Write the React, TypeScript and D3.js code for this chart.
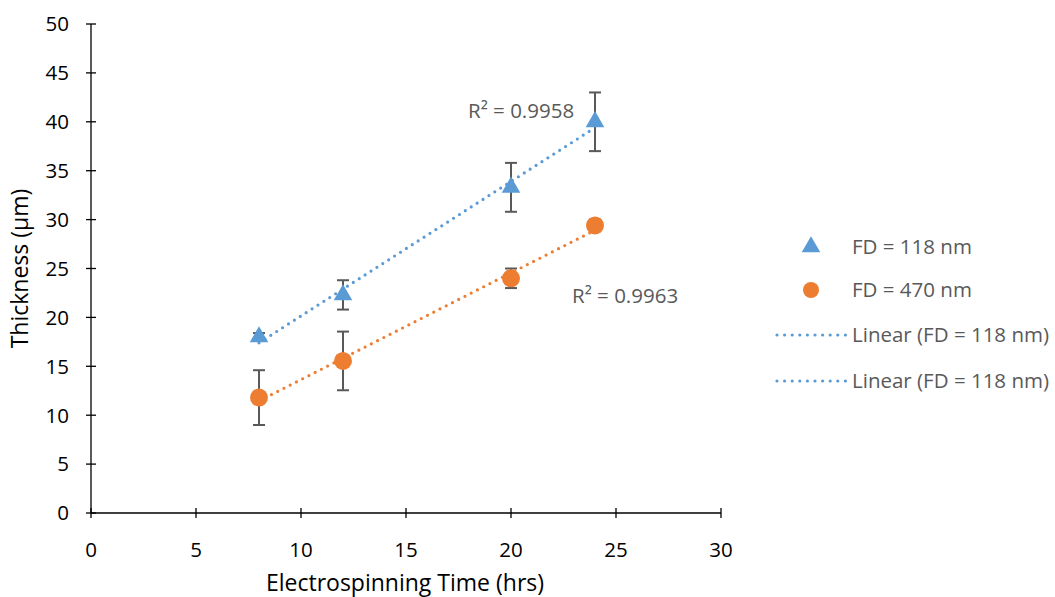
import React from "react";
import * as d3 from "d3";

const hours = [8, 12, 20, 24];
const fd118 = [18, 22.3, 33.3, 40];
const fd118Err = [0.4, 1.5, 2.5, 3];
const fd470 = [11.8, 15.55, 24, 29.4];
const fd470Err = [2.8, 3, 1, 0.6];
const xTicks = [0, 5, 10, 15, 20, 25, 30];
const yTicks = [0, 5, 10, 15, 20, 25, 30, 35, 40, 45, 50];
const r2Labels = ["R² = 0.9958", "R² = 0.9963"];
const legendLabels = ["FD = 118 nm", "FD = 470 nm", "Linear (FD = 118 nm)", "Linear (FD = 118 nm)"];

const BLUE = "#5B9BD5";
const ORANGE = "#ED7D31";
const GRAY = "#595959";
const FONT = "'Open Sans', 'Liberation Sans', sans-serif";

function fit(xs: number[], ys: number[]) {
  const mx = d3.mean(xs)!;
  const my = d3.mean(ys)!;
  let sxy = 0, sxx = 0;
  xs.forEach((x, i) => { sxy += (x - mx) * (ys[i] - my); sxx += (x - mx) ** 2; });
  const m = sxy / sxx;
  const b = my - m * mx;
  return (x: number) => m * x + b;
}

export default function App() {
  const x = d3.scaleLinear().domain([0, 30]).range([91, 721]);
  const y = d3.scaleLinear().domain([0, 50]).range([513, 24]);
  const f1 = fit(hours, fd118);
  const f2 = fit(hours, fd470);
  const x0 = d3.min(hours)!, x1 = d3.max(hours)!;
  const tri = d3.symbol().type(d3.symbolTriangle).size(150)()!;
  const legTri = d3.symbol().type(d3.symbolTriangle).size(150)()!;

  const errBars = (vals: number[], errs: number[], key: string) =>
    hours.map((h, i) => {
      const cx = x(h);
      const t = y(vals[i] + errs[i]);
      const b = y(vals[i] - errs[i]);
      return (
        <g key={key + i} stroke={GRAY} strokeWidth={2}>
          <line x1={cx} x2={cx} y1={t} y2={b} />
          <line x1={cx - 6} x2={cx + 6} y1={t} y2={t} />
          <line x1={cx - 6} x2={cx + 6} y1={b} y2={b} />
        </g>
      );
    });

  return (
    <svg width={1055} height={597} style={{ position: "absolute", left: 0, top: 0, background: "#fff" }} fontFamily={FONT}>
      <rect width={1055} height={597} fill="#fff" />
      {/* axes */}
      <line x1={x(0)} x2={x(30)} y1={y(0)} y2={y(0)} stroke="#000" strokeWidth={1.3} />
      <line x1={x(0)} x2={x(0)} y1={y(0)} y2={y(50)} stroke="#000" strokeWidth={1.3} />
      {xTicks.map((t) => (
        <g key={"xt" + t}>
          <line x1={x(t)} x2={x(t)} y1={y(0) - 5} y2={y(0) + 5} stroke="#000" strokeWidth={1.3} />
          <text x={x(t)} y={557} textAnchor="middle" fontSize={20.5} fill="#000">{t}</text>
        </g>
      ))}
      {yTicks.map((t) => (
        <g key={"yt" + t}>
          <line x1={x(0) - 5} x2={x(0) + 5} y1={y(t)} y2={y(t)} stroke="#000" strokeWidth={1.3} />
          <text x={69} y={y(t)} dy="0.36em" textAnchor="end" fontSize={20.5} fill="#000">{t}</text>
        </g>
      ))}
      <text x={405} y={591} textAnchor="middle" fontSize={23} fill="#000">Electrospinning Time (hrs)</text>
      <text transform={`translate(28,${(y(0) + y(50)) / 2}) rotate(-90)`} textAnchor="middle" fontSize={23} fill="#000">Thickness (µm)</text>

      {/* error bars */}
      {errBars(fd118, fd118Err, "e1")}
      {errBars(fd470, fd470Err, "e2")}

      {/* trendlines */}
      <line x1={x(x0)} y1={y(f1(x0))} x2={x(x1)} y2={y(f1(x1))} stroke={BLUE} strokeWidth={3.2} strokeLinecap="round" strokeDasharray="0 7" />
      <line x1={x(x0)} y1={y(f2(x0))} x2={x(x1)} y2={y(f2(x1))} stroke={ORANGE} strokeWidth={3.2} strokeLinecap="round" strokeDasharray="0 7" />

      {/* markers */}
      {hours.map((h, i) => (
        <path key={"t" + i} d={tri} transform={`translate(${x(h)},${y(fd118[i])})`} fill={BLUE} />
      ))}
      {hours.map((h, i) => (
        <circle key={"c" + i} cx={x(h)} cy={y(fd470[i])} r={9} fill={ORANGE} />
      ))}

      {/* R2 labels */}
      <text x={468} y={118} fontSize={20.5} fill={GRAY}>{r2Labels[0]}</text>
      <text x={572} y={303} fontSize={20.5} fill={GRAY}>{r2Labels[1]}</text>

      {/* legend */}
      <path d={legTri} transform="translate(811,247)" fill={BLUE} />
      <circle cx={811} cy={290} r={8} fill={ORANGE} />
      <line x1={777} x2={846} y1={335} y2={335} stroke={BLUE} strokeWidth={3.2} strokeLinecap="round" strokeDasharray="0 7.6" />
      <line x1={777} x2={846} y1={381} y2={381} stroke={BLUE} strokeWidth={3.2} strokeLinecap="round" strokeDasharray="0 7.6" />
      {legendLabels.map((l, i) => (
        <text key={"l" + i} x={852} y={[247, 290, 335, 381][i]} dy="0.36em" fontSize={20.5} fill={GRAY}>{l}</text>
      ))}
    </svg>
  );
}
